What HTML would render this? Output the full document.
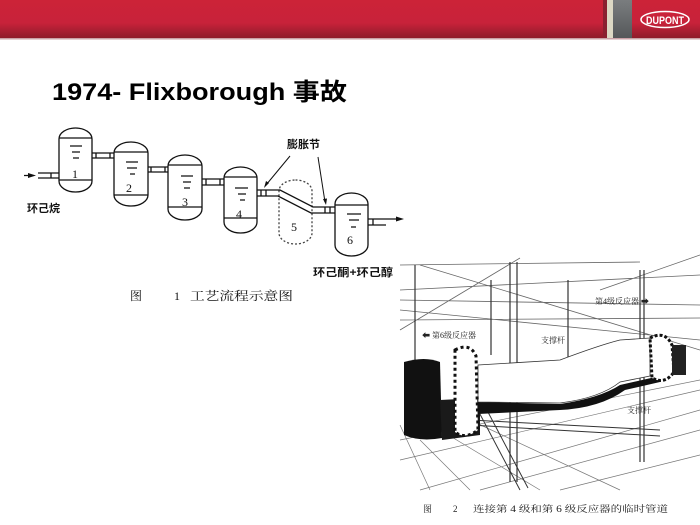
<!DOCTYPE html>
<html><head><meta charset="utf-8"><style>
html,body{margin:0;padding:0;background:#fff;}
body{width:700px;height:525px;overflow:hidden;position:relative;font-family:"Liberation Sans","Noto Sans CJK SC",sans-serif;}
</style></head><body>
<svg width="700" height="525" viewBox="0 0 700 525" xmlns="http://www.w3.org/2000/svg" style="position:absolute;left:0;top:0">
<defs>
<linearGradient id="hg" x1="0" y1="0" x2="0" y2="1">
<stop offset="0" stop-color="#cc2338"/><stop offset="0.6" stop-color="#c8223a"/><stop offset="1" stop-color="#8e1b2a"/>
</linearGradient>
<linearGradient id="gg" x1="0" y1="0" x2="0" y2="1">
<stop offset="0" stop-color="#7a7d7f"/><stop offset="1" stop-color="#55585a"/>
</linearGradient>
</defs>
<rect x="0" y="0" width="700" height="38" fill="url(#hg)"/>
<rect x="0" y="38" width="700" height="1.5" fill="#c9a0a6"/>
<rect x="603" y="0" width="4" height="38" fill="#8a2030"/>
<rect x="607" y="0" width="6" height="38" fill="#dcd8c4"/>
<rect x="613" y="0" width="19" height="38" fill="url(#gg)"/>
<ellipse cx="665" cy="19.5" rx="24" ry="8" fill="none" stroke="#fff" stroke-width="1.5"/>
<text x="665" y="24" font-size="11" font-weight="bold" fill="#fff" text-anchor="middle" font-family="Liberation Sans Narrow, Liberation Sans, sans-serif" textLength="38" lengthAdjust="spacingAndGlyphs">DUPONT</text>

<text x="52" y="100" font-size="24" font-weight="bold" fill="#000" font-family="Liberation Sans, Noto Sans CJK SC, sans-serif" textLength="295" lengthAdjust="spacingAndGlyphs">1974- Flixborough 事故</text>

<g stroke="#111" stroke-width="1.3" fill="none">
<rect x="59" y="128" width="33" height="64" rx="16.5" ry="11"/>
<line x1="59" y1="138" x2="92" y2="138"/><line x1="59" y1="180" x2="92" y2="180"/>
<rect x="114" y="142" width="34" height="64" rx="17" ry="11"/>
<line x1="114" y1="152" x2="148" y2="152"/><line x1="114" y1="195" x2="148" y2="195"/>
<rect x="168" y="155" width="34" height="65" rx="17" ry="11"/>
<line x1="168" y1="165" x2="202" y2="165"/><line x1="168" y1="207" x2="202" y2="207"/>
<rect x="224" y="167" width="33" height="66" rx="16.5" ry="11"/>
<line x1="224" y1="177" x2="257" y2="177"/><line x1="224" y1="218" x2="257" y2="218"/>
<rect x="279" y="180" width="33" height="64" rx="16.5" ry="11" stroke-dasharray="2,2" stroke="#444"/>
<rect x="335" y="193" width="33" height="63" rx="16.5" ry="11"/>
<line x1="335" y1="205" x2="368" y2="205"/>
<path d="M24 175.5 H32 M38 173 H59 M38 178 H59 M51 173 V178"/>
<path d="M92 153 H114 M92 158 H114 M96 153 V158 M110 153 V158"/>
<path d="M148 167 H168 M148 172 H168 M151 167 V172 M165 167 V172"/>
<path d="M202 179 H224 M202 185 H224 M206 179 V185 M220 179 V185"/>
<path d="M257 190 H280 L313 207 H335 M257 196 H278 L311 213 H335 M261 190 V196 M266 190 V196 M325 207 V213 M330 207 V213"/>
<path d="M368 219 H400 M368 225 H386 M373 219 V225"/>
<path d="M70 146 H82 M72 152 H80 M73 158 H79"/>
<path d="M126 162 H138 M127 168 H137 M130 174 H135"/>
<path d="M181 176 H193 M183 182 H191 M184 188 H190"/>
<path d="M235 188 H248 M238 194 H246 M240 200 H245"/>
<path d="M347 214 H361 M349 220 H359 M351 227 H356"/>
<path d="M290 156 L266 185 M318 157 L325 202" stroke-width="1"/>
</g>
<g fill="#111">
<path d="M36 175.5 L28 173 L28 178 Z"/>
<path d="M404 219 L396 216.5 L396 221.5 Z"/>
<path d="M264 188 L266 181 L269 183 Z"/>
<path d="M326 205 L323 199 L327 198.5 Z"/>
</g>
<g font-family="Liberation Serif, Noto Serif CJK SC, serif" font-size="12" fill="#111">
<text x="72" y="178">1</text><text x="126" y="192">2</text><text x="182" y="206">3</text>
<text x="236" y="218">4</text><text x="291" y="231">5</text><text x="347" y="244">6</text>
</g>
<g font-family="Liberation Sans, Noto Sans CJK SC, sans-serif" font-weight="bold" font-size="11" fill="#111">
<text x="27" y="212">环己烷</text>
<text x="287" y="148">膨胀节</text>
<text x="313" y="276" textLength="80" lengthAdjust="spacingAndGlyphs">环己酮+环己醇</text>
</g>
<g font-family="Liberation Serif, Noto Serif CJK SC, serif" font-size="12" fill="#111">
<text x="130" y="300">图</text><text x="174" y="300">1</text>
<text x="190" y="300" textLength="103" lengthAdjust="spacingAndGlyphs">工艺流程示意图</text>
</g>

<!-- photo -->
<g stroke="#222" fill="none" stroke-width="1">
<path d="M400 265 L640 262 M400 290 L700 275 M400 300 L700 305 M400 320 L700 318 M420 265 L700 350 M400 330 L520 258 M600 290 L700 255 M400 310 L700 340" stroke="#666" stroke-width="0.8"/>
<path d="M400 460 L700 390 M420 490 L700 410 M480 490 L700 430 M560 490 L700 455 M400 440 L700 380 M400 425 L430 490 M420 440 L470 490 M440 430 L540 490 M470 420 L620 490" stroke="#777" stroke-width="0.7"/>
<path d="M510 262 V482 M517 262 V482 M640 270 V462 M644 270 V462 M415 265 V360 M491 280 V355 M568 280 V360" stroke="#333" stroke-width="1.2"/>
<path d="M462 380 L520 490 M470 378 L528 488 M470 420 L660 430 M470 425 L660 436" stroke="#333"/>
</g>
<path d="M404 362 Q425 356 440 362 L442 438 Q420 442 404 435 Z" fill="#111"/>
<path d="M440 400 L480 398 L480 435 L442 440 Z" fill="#1a1a1a"/>
<path d="M478 402 L560 404 Q600 398 620 385 L660 376 L660 382 L625 390 Q600 408 560 410 L478 414 Z" fill="#111"/>
<path d="M478 365 L560 360 Q600 345 620 340 L650 338 L650 376 L620 382 Q600 398 560 403 L478 402 Z" fill="#fff" stroke="#333" stroke-width="0.8"/>
<path d="M455 350 Q470 342 476 356 L478 430 Q465 440 455 432 Z" fill="#fff" stroke="#111" stroke-width="3" stroke-dasharray="3,3"/>
<path d="M650 338 Q665 330 672 345 L674 372 Q665 385 652 378 Z" fill="#fff" stroke="#111" stroke-width="3" stroke-dasharray="3,2"/>
<rect x="672" y="345" width="14" height="30" fill="#222"/>
<g font-family="Liberation Serif, Noto Serif CJK SC, serif" font-size="8" fill="#222">
<text x="595" y="304">第4级反应器 ➡</text>
<text x="422" y="338">⬅ 第6级反应器</text>
<text x="541" y="343">支撑杆</text>
<text x="627" y="413">支撑杆</text>
<text x="423" y="512" font-size="9">图</text>
<text x="453" y="512" font-size="9">2</text>
<text x="473" y="512" font-size="9" textLength="195" lengthAdjust="spacingAndGlyphs">连接第 4 级和第 6 级反应器的临时管道</text>
</g>
</svg>
</body></html>
